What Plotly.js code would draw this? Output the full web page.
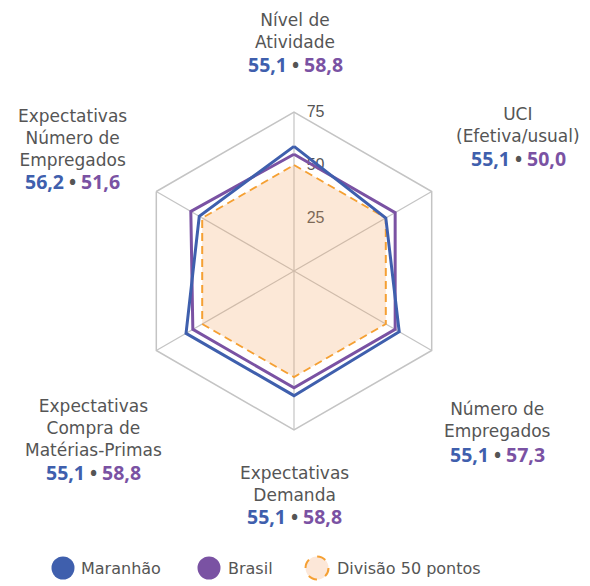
<!DOCTYPE html>
<html>
<head>
<meta charset="utf-8">
<script src="https://cdn.plot.ly/plotly-3.0.1.min.js"></script>
<style>html,body{margin:0;padding:0;background:#fff;}#chart{width:590px;height:586px;}</style>
</head>
<body>
<div id="chart"></div>
<script>
// Axis categories (clockwise from top)
const categories = [
  "Nível de Atividade",
  "UCI (Efetiva/usual)",
  "Número de Empregados",
  "Expectativas Demanda",
  "Expectativas Compra de Matérias-Primas",
  "Expectativas Número de Empregados"
];
// Label lines shown around the chart
const labelLines = [
  ["Nível de", "Atividade"],
  ["UCI", "(Efetiva/usual)"],
  ["Número de", "Empregados"],
  ["Expectativas", "Demanda"],
  ["Expectativas", "Compra de", "Matérias-Primas"],
  ["Expectativas", "Número de", "Empregados"]
];
// Values printed under each label
const maranhaoLabel = ["55,1", "55,1", "55,1", "55,1", "55,1", "56,2"];
const brasilLabel   = ["58,8", "50,0", "57,3", "58,8", "58,8", "51,6"];
// Values read from the drawn polygons
const maranhaoLine = [58.8, 50.0, 57.3, 58.8, 58.8, 51.6];
const brasilLine   = [55.1, 55.1, 55.1, 55.1, 55.1, 56.2];
const divisao      = [50, 50, 50, 50, 50, 50];
const radialTicks  = [25, 50, 75];
const seriesNames  = ["Maranhão", "Brasil", "Divisão 50 pontos"];

const BLUE = "#3f5fad", PURPLE = "#7a52a3", ORANGE = "#f5a033", TXT = "#555555";
const FONT = "DejaVu Sans";
const NUMFONT = "Open Sans";
const W = 590, H = 586;
const px = x => x / W, py = y => 1 - y / H;
const close = a => a.concat([a[0]]);

const traces = [
  {type: "scatterpolar", r: close(divisao), theta: close(categories), mode: "lines",
   fill: "toself", fillcolor: "rgba(244,164,96,0.25)",
   line: {color: ORANGE, width: 2, dash: "8px,5px"}, name: seriesNames[2], hoverinfo: "skip"},
  {type: "scatterpolar", r: close(brasilLine), theta: close(categories), mode: "lines",
   line: {color: PURPLE, width: 3}, name: seriesNames[1]},
  {type: "scatterpolar", r: close(maranhaoLine), theta: close(categories), mode: "lines",
   line: {color: BLUE, width: 3}, name: seriesNames[0]}
];

// label block positions (pixel centers)
const blockPos = [
  {x: 295, y: 31, ny: 65},
  {x: 518, y: 125, ny: 159},
  {x: 497, y: 420, ny: 454},
  {x: 294, y: 484, ny: 516},
  {x: 94,  y: 428, ny: 472},
  {x: 72,  y: 138, ny: 182}
];

const annotations = [];
labelLines.forEach((lines, i) => {
  const p = blockPos[i];
  annotations.push({xref: "paper", yref: "paper", x: px(p.x), y: py(p.y),
    xanchor: "center", yanchor: "middle", showarrow: false, align: "center",
    text: lines.join("<br>"), font: {family: FONT, size: 17, color: TXT}});
  annotations.push({xref: "paper", yref: "paper", x: px(p.x), y: py(p.ny),
    xanchor: "center", yanchor: "middle", showarrow: false,
    text: "<b><span style='color:" + BLUE + "'>" + maranhaoLabel[i] + "</span></b>" +
          "<span style='color:" + TXT + ";font-size:19px'> <b>•</b> </span>" +
          "<b><span style='color:" + PURPLE + "'>" + brasilLabel[i] + "</span></b>",
    font: {family: NUMFONT, size: 19.5, color: TXT}});
});

// custom legend
const legendItems = [
  {cx: 63, tx: 79, color: BLUE, fill: BLUE, dash: "solid", w: 0},
  {cx: 209, tx: 226, color: PURPLE, fill: PURPLE, dash: "solid", w: 0},
  {cx: 317, tx: 335, color: ORANGE, fill: "#fce7d8", dash: "dash", w: 2}
];
const LY = 568, LR = 11.5;
const shapes = [];
legendItems.forEach((it, i) => {
  shapes.push({type: "circle", xref: "paper", yref: "paper",
    x0: px(it.cx - LR), x1: px(it.cx + LR), y0: py(LY + LR), y1: py(LY - LR),
    fillcolor: it.fill, line: {color: it.color, width: it.w, dash: it.dash}});
  annotations.push({xref: "paper", yref: "paper", x: px(it.tx), y: py(LY),
    xanchor: "left", yanchor: "middle", showarrow: false, text: seriesNames[i],
    font: {family: FONT, size: 16, color: TXT}});
});

const cx = 294, cy = 271, R = 159;
const layout = {
  width: W, height: H,
  margin: {l: 0, r: 0, t: 0, b: 0},
  paper_bgcolor: "#fff",
  showlegend: false,
  polar: {
    domain: {x: [px(cx - R), px(cx + R)], y: [py(cy + R), py(cy - R)]},
    bgcolor: "rgba(0,0,0,0)",
    gridshape: "linear",
    radialaxis: {range: [0, 75], tickvals: radialTicks, showgrid: false, showline: false,
      ticks: "outside", ticklen: 9, tickcolor: "rgba(0,0,0,0)", angle: 90, tickangle: 90,
      layer: "below traces",
      tickfont: {family: "Liberation Sans", size: 16, color: TXT}},
    angularaxis: {type: "category", direction: "clockwise", rotation: 90,
      showticklabels: false, ticks: "", showline: true, linecolor: "#c4c4c4", linewidth: 1.5,
      gridcolor: "#c4c4c4", gridwidth: 1.2, layer: "below traces"}
  },
  annotations: annotations,
  shapes: shapes
};

Plotly.newPlot("chart", traces, layout, {displayModeBar: false, staticPlot: true});
</script>
</body>
</html>
